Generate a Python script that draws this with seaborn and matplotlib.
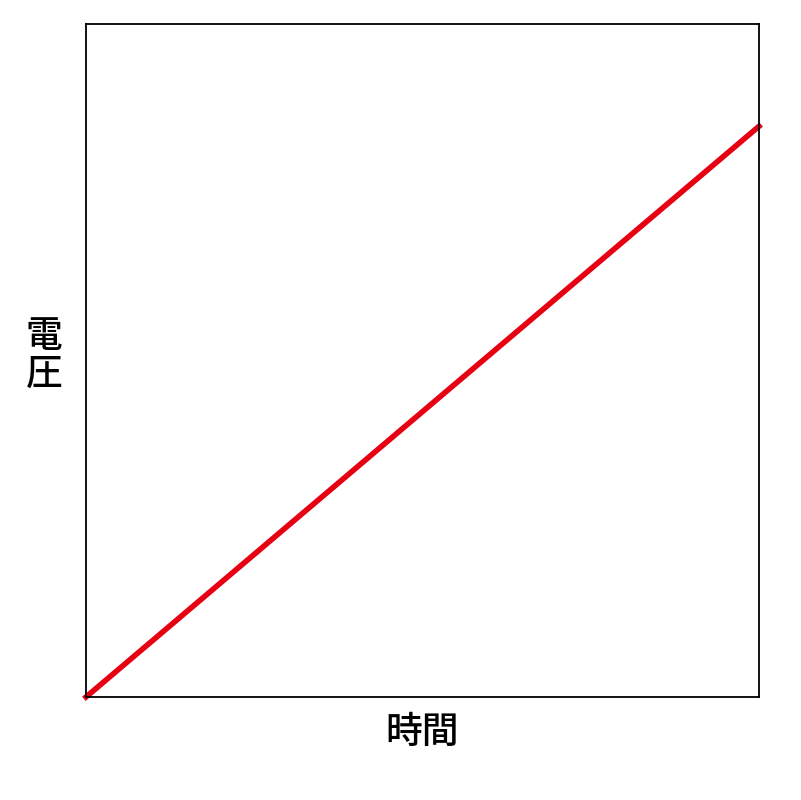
import matplotlib
matplotlib.use("Agg")
import matplotlib.pyplot as plt
import seaborn as sns
import pandas as pd

time_vals = [0.0, 1.0]
voltage_vals = [0.0, 0.848]
x_label = "時間"
y_label = "電\n圧"

sns.set_style("white")
plt.rcParams['font.family'] = ['Noto Sans CJK JP', 'DejaVu Sans']

df = pd.DataFrame({"time": time_vals, "voltage": voltage_vals})

fig = plt.figure(figsize=(8.01, 8.0), dpi=100)
ax = fig.add_axes([86/801, 103/800, 673/801, 673/800])
sns.lineplot(data=df, x="time", y="voltage", ax=ax, color="#e60012",
             linewidth=4.0, clip_on=False, solid_capstyle="projecting")
ax.set_xlim(0, 1)
ax.set_ylim(0, 1)
ax.set_xticks([])
ax.set_yticks([])
for s in ax.spines.values():
    s.set_color("black")
    s.set_linewidth(1.3)
    s.set_visible(True)
ax.set_xlabel(x_label, fontsize=26.5, color="black", fontweight="medium")
ax.set_ylabel(y_label, fontsize=26.5, rotation=0, color="black", va="center",
              ha="center", linespacing=1.0, fontweight="medium")
ax.xaxis.set_label_coords(0.5, -0.024)
ax.yaxis.set_label_coords(-0.062, 0.508)
fig.savefig("out.png", dpi=100)
